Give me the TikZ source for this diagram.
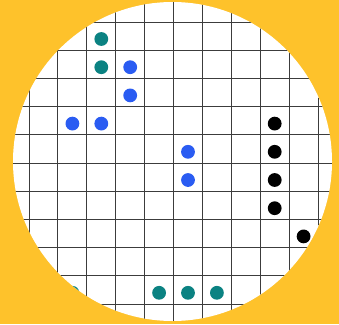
\documentclass[tikz,border=0pt]{standalone}
\usepackage{xcolor}
\usepackage{tikz}
\definecolor{bgYellow}{HTML}{FEC22B}
\definecolor{gLine}{HTML}{3C3C3C}
\definecolor{dTeal}{HTML}{0B8282}
\definecolor{dBlue}{HTML}{2A5CF2}
\definecolor{dBlack}{HTML}{000000}
\tikzset{dot/.style={circle, minimum size=13.8pt, inner sep=0pt, draw=none}}

\begin{document}
\begin{tikzpicture}[x=1pt, y=-1pt]
  \fill[bgYellow] (0,0) rectangle (339,324);
  \useasboundingbox (0,0) rectangle (339,324);
  \fill[white] (172.5,161.5) circle (159.5pt);
  \begin{scope}
    \clip (172.5,161.5) circle (159.5pt);
    % grid
    \foreach \k in {0,...,10} {\draw[gLine, line width=1pt] ({29+28.9*\k},0) -- ({29+28.9*\k},324);}
    \foreach \k in {0,...,10} {\draw[gLine, line width=1pt] (0,{22+28.2*\k}) -- (339,{22+28.2*\k});}
    % stones: column/row/colour
    \foreach \c/\r/\col [count=\i] in {2/0/dTeal, 2/1/dTeal, 1/9/dTeal, 4/9/dTeal, 5/9/dTeal, 6/9/dTeal,
      3/1/dBlue, 3/2/dBlue, 1/3/dBlue, 2/3/dBlue, 5/4/dBlue, 5/5/dBlue,
      8/3/dBlack, 8/4/dBlack, 8/5/dBlack, 8/6/dBlack, 9/7/dBlack}
      {\node[dot, fill=\col] (s\i) at ({43.5+28.9*\c},{39+28.2*\r}) {};}
  \end{scope}
\end{tikzpicture}
\end{document}
